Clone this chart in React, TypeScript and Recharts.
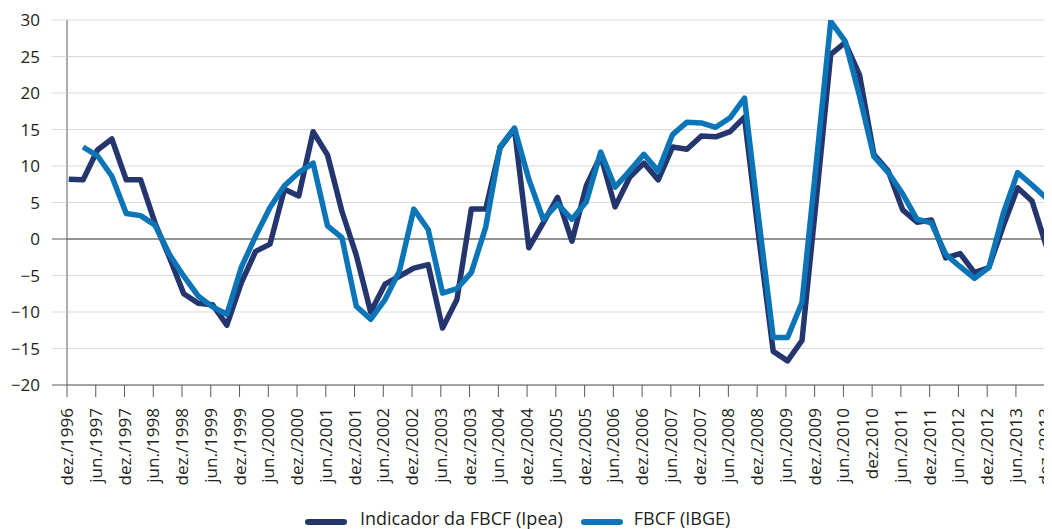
import React from "react";
import { LineChart, Line, XAxis, YAxis, CartesianGrid, ReferenceLine, Legend } from "recharts";

const tickLabels = [
  "dez./1996", "jun./1997", "dez./1997", "jun./1998", "dez./1998", "jun./1999", "dez./1999",
  "jun./2000", "dez./2000", "jun./2001", "dez./2001", "jun./2002", "dez./2002", "jun./2003",
  "dez./2003", "jun./2004", "dez./2004", "jun./2005", "dez./2005", "jun./2006", "dez./2006",
  "jun./2007", "dez./2007", "jun./2008", "dez./2008", "jun./2009", "dez./2009", "jun./2010",
  "dez.2010", "jun./2011", "dez./2011", "jun./2012", "dez./2012", "jun./2013", "dez./2013",
];

const quarters = [
  "dez./1996", "mar./1997", "jun./1997", "set./1997", "dez./1997", "mar./1998", "jun./1998", "set./1998",
  "dez./1998", "mar./1999", "jun./1999", "set./1999", "dez./1999", "mar./2000", "jun./2000", "set./2000",
  "dez./2000", "mar./2001", "jun./2001", "set./2001", "dez./2001", "mar./2002", "jun./2002", "set./2002",
  "dez./2002", "mar./2003", "jun./2003", "set./2003", "dez./2003", "mar./2004", "jun./2004", "set./2004",
  "dez./2004", "mar./2005", "jun./2005", "set./2005", "dez./2005", "mar./2006", "jun./2006", "set./2006",
  "dez./2006", "mar./2007", "jun./2007", "set./2007", "dez./2007", "mar./2008", "jun./2008", "set./2008",
  "dez./2008", "mar./2009", "jun./2009", "set./2009", "dez./2009", "mar./2010", "jun./2010", "set./2010",
  "dez./2010", "mar./2011", "jun./2011", "set./2011", "dez./2011", "mar./2012", "jun./2012", "set./2012",
  "dez./2012", "mar./2013", "jun./2013", "set./2013", "dez./2013",
];

const ipea = [
  8.2, 8.1, 12.2, 13.7, 8.1, 8.1, 2.2, -2.5, -7.5, -8.8, -9.0, -11.8, -6.0, -1.7, -0.7, 6.8,
  5.9, 14.7, 11.5, 3.8, -2.2, -10.0, -6.2, -5.1, -4.0, -3.5, -12.2, -8.3, 4.1, 4.1, 12.5, 15.1,
  -1.2, 2.2, 5.7, -0.3, 7.3, 11.4, 4.4, 8.4, 10.4, 8.1, 12.6, 12.3, 14.1, 14.0, 14.7, 16.7,
  0.2, -15.4, -16.7, -13.9, 5.5, 25.3, 26.9, 22.5, 11.6, 9.3, 4.0, 2.3, 2.6, -2.6, -2.0, -4.6,
  -3.9, 1.8, 7.0, 5.2, -1.0,
];

const ibge = [
  null, 12.6, 11.4, 8.6, 3.5, 3.2, 1.9, -2.1, -5.1, -7.8, -9.3, -10.3, -3.9, 0.4, 4.3, 7.3,
  9.1, 10.4, 1.8, 0.2, -9.2, -11.0, -8.3, -4.4, 4.1, 1.3, -7.4, -6.8, -4.6, 1.6, 12.6, 15.2,
  8.2, 2.7, 4.8, 2.7, 5.1, 11.9, 7.1, 9.3, 11.6, 9.3, 14.3, 16.0, 15.9, 15.3, 16.6, 19.3,
  2.6, -13.5, -13.5, -8.7, 10.5, 29.8, 27.1, 19.6, 11.3, 9.1, 6.2, 2.7, 2.2, -2.1, -3.8, -5.4,
  -3.9, 3.5, 9.1, 7.4, 5.6,
];

const yTicks = [-20, -15, -10, -5, 0, 5, 10, 15, 20, 25, 30];

const seriesNames = ["Indicador da FBCF (Ipea)", "FBCF (IBGE)"];
const DARK = "#25366f";
const LIGHT = "#0b75b7";
const GRID = "#d9d9d9";
const AXIS = "#5a5a5a";
const TEXT = "#231f20";
const FONT = "'Open Sans', sans-serif";

const TICK_OFFSET = -0.12;
const X_MIN = -0.12;
const X_MAX = 68.25;

const data = quarters.map((q, i) => ({ idx: i, quarter: q, ipea: ipea[i], ibge: ibge[i] }));
const xTickValues = tickLabels.map((_, k) => k * 2 + TICK_OFFSET);

const fmtNum = (v: number) => (v < 0 ? `\u2212${Math.abs(v)}` : `${v}`);

const YTick = (props: any) => {
  const { x, y, payload } = props;
  const v = payload.value;
  const dark = v === 0 || v === -20;
  return (
    <g>
      <line x1={x + 12} x2={x + 27} y1={y} y2={y} stroke={dark ? AXIS : GRID} strokeWidth={1} />
      <text x={x} y={y} dy="0.36em" textAnchor="end" fill={TEXT} fontSize={17} fontFamily={FONT}>
        {fmtNum(v)}
      </text>
    </g>
  );
};

const XTick = (props: any) => {
  const { x, y, payload } = props;
  const k = Math.round((payload.value - TICK_OFFSET) / 2);
  return (
    <text
      transform={`translate(${x + 6},${y}) rotate(-90)`}
      textAnchor="end"
      fill={TEXT}
      fontSize={17}
      fontFamily={FONT}
    >
      {tickLabels[k]}
    </text>
  );
};

const LegendContent = () => (
  <div
    style={{
      display: "flex",
      alignItems: "flex-start",
      height: 22,
      paddingLeft: 297,
      fontFamily: FONT,
      fontSize: 18,
      lineHeight: "22px",
      color: TEXT,
      whiteSpace: "nowrap",
    }}
  >
    <span style={{ display: "inline-block", width: 42, height: 6, marginTop: 12, borderRadius: 3, background: DARK }} />
    <span style={{ marginLeft: 13 }}>{seriesNames[0]}</span>
    <span style={{ display: "inline-block", width: 42, height: 6, marginTop: 12, borderRadius: 3, background: LIGHT, marginLeft: 18 }} />
    <span style={{ marginLeft: 11 }}>{seriesNames[1]}</span>
  </div>
);

export default function App() {
  return (
    <LineChart width={1044} height={521} data={data} margin={{ top: 12, right: 2, left: 0, bottom: 0 }}>
      <CartesianGrid horizontal={true} vertical={false} stroke={GRID} strokeWidth={1.2} />
      <XAxis
        type="number"
        dataKey="idx"
        domain={[X_MIN, X_MAX]}
        ticks={xTickValues}
        interval={0}
        height={122}
        tickSize={12}
        tickMargin={11}
        axisLine={{ stroke: AXIS, strokeWidth: 1 }}
        tickLine={{ stroke: AXIS, strokeWidth: 1 }}
        tick={<XTick />}
        allowDataOverflow={true}
      />
      <YAxis
        type="number"
        domain={[-20, 30]}
        ticks={yTicks}
        interval={0}
        width={59}
        tickSize={15}
        tickMargin={12}
        axisLine={{ stroke: AXIS, strokeWidth: 1 }}
        tickLine={false}
        tick={<YTick />}
        allowDataOverflow={true}
      />
      <ReferenceLine x={X_MAX} stroke={GRID} strokeWidth={1.2} ifOverflow="visible" />
      <ReferenceLine y={0} stroke="#3a3a3a" strokeWidth={1} />
      <Legend verticalAlign="bottom" height={22} wrapperStyle={{ left: 0, width: 1044 }} content={<LegendContent />} />
      <Line
        type="linear"
        dataKey="ipea"
        name={seriesNames[0]}
        stroke={DARK}
        strokeWidth={5.5}
        dot={false}
        activeDot={false}
        strokeLinejoin="round"
        isAnimationActive={false}
      />
      <Line
        type="linear"
        dataKey="ibge"
        name={seriesNames[1]}
        stroke={LIGHT}
        strokeWidth={5.5}
        dot={false}
        activeDot={false}
        strokeLinejoin="round"
        connectNulls={false}
        isAnimationActive={false}
      />
    </LineChart>
  );
}
